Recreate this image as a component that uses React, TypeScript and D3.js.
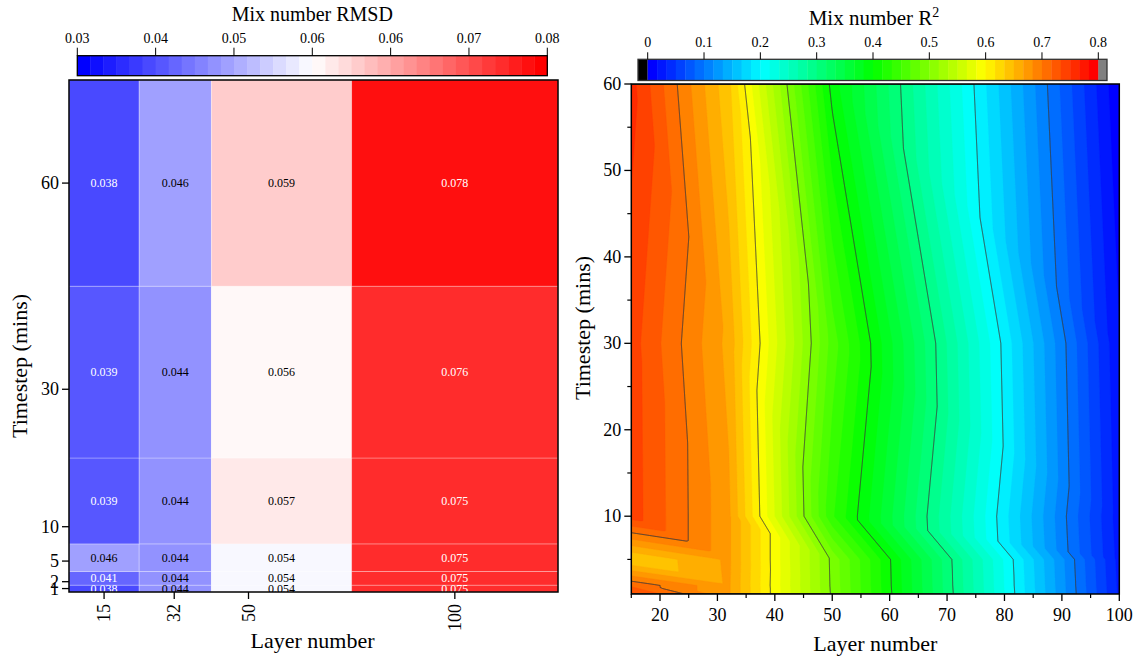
import React, { useEffect, useMemo } from "react";
import * as d3 from "d3";

const FONT = "'Liberation Serif', 'Times New Roman', Times, serif";

// ---------- Left: Mix number RMSD heatmap ----------
const rmsdLayers = [15, 32, 50, 100];
const rmsdTimesteps = [1, 2, 5, 10, 30, 60];
const rmsdT1 = [0.038, 0.044, 0.054, 0.075];
const rmsdT2 = [0.041, 0.044, 0.054, 0.075];
const rmsdT5 = [0.046, 0.044, 0.054, 0.075];
const rmsdT10 = [0.039, 0.044, 0.057, 0.075];
const rmsdT30 = [0.039, 0.044, 0.056, 0.0756];
const rmsdT60 = [0.038, 0.046, 0.0594, 0.078];
const rmsdRows = [rmsdT1, rmsdT2, rmsdT5, rmsdT10, rmsdT30, rmsdT60];
const rmsdRange = [0.03, 0.08];
const rmsdBandCount = 36;
const rmsdTickLabels = ["0.03", "0.04", "0.05", "0.06", "0.06", "0.07", "0.08"];

// ---------- Right: Mix number R² contour ----------
const r2Layers = [15, 32, 50, 100];
const r2Timesteps = [1, 2, 5, 10, 30, 60];
const r2T1 = [0.737, 0.669, 0.497, 0.03];
const r2T2 = [0.713, 0.669, 0.496, 0.029];
const r2T5 = [0.632, 0.67, 0.495, 0.027];
const r2T10 = [0.742, 0.67, 0.436, 0.024];
const r2T30 = [0.741, 0.661, 0.459, 0.018];
const r2T60 = [0.756, 0.637, 0.393, 0.002];
const r2Rows = [r2T1, r2T2, r2T5, r2T10, r2T30, r2T60];
const r2Range = [0, 0.8];
const r2BandCount = 48;
const r2LineLevels = [0.1, 0.2, 0.3, 0.4, 0.5, 0.6, 0.7];
const r2BarTicks = [0, 0.1, 0.2, 0.3, 0.4, 0.5, 0.6, 0.7, 0.8];
const r2BarTickLabels = ["0", "0.1", "0.2", "0.3", "0.4", "0.5", "0.6", "0.7", "0.8"];
const r2XTicks = [20, 30, 40, 50, 60, 70, 80, 90, 100];
const r2XMinor = [15, 25, 35, 45, 55, 65, 75, 85, 95];
const r2YTicks = [10, 20, 30, 40, 50, 60];
const r2YMinor = [5, 15, 25, 35, 45, 55];

const divergent = d3
  .scaleLinear<string>()
  .domain([0, 0.5, 1])
  .range(["#0000ff", "#ffffff", "#ff0000"])
  .interpolate(d3.interpolateRgb);
const rainbow = d3
  .scaleLinear<string>()
  .domain([0, 0.25, 0.5, 0.75, 1])
  .range(["#0000ff", "#00ffff", "#00ff00", "#ffff00", "#ff0000"])
  .interpolate(d3.interpolateRgb);

function rmsdBand(v: number) {
  const k = Math.max(
    0,
    Math.min(rmsdBandCount - 1, Math.floor(((v - rmsdRange[0]) / (rmsdRange[1] - rmsdRange[0])) * rmsdBandCount))
  );
  return divergent(k / (rmsdBandCount - 1));
}

function edgesOf(arr: number[]) {
  const e = [arr[0] - (arr[1] - arr[0]) / 2];
  for (let i = 0; i < arr.length - 1; i++) e.push((arr[i] + arr[i + 1]) / 2);
  const n = arr.length;
  e.push(arr[n - 1] + (arr[n - 1] - arr[n - 2]) / 2);
  return e;
}

function LeftChart() {
  const L = 69, R = 558, T = 80, B = 592;
  const xe = edgesOf(rmsdLayers);
  const ye = edgesOf(rmsdTimesteps);
  const x = d3.scaleLinear().domain([xe[0], xe[xe.length - 1]]).range([L, R]);
  const y = d3.scaleLinear().domain([ye[0], ye[ye.length - 1]]).range([B, T]);
  const cb = d3.scaleLinear().domain(rmsdRange).range([77.3, 547.3]);
  const cbTop = 55.7, cbBot = 75.7;
  const bandW = (rmsdRange[1] - rmsdRange[0]) / rmsdBandCount;
  const tickVals = rmsdTickLabels.map((_, i) => rmsdRange[0] + (i * (rmsdRange[1] - rmsdRange[0])) / (rmsdTickLabels.length - 1));

  return (
    <g>
      <defs>
        <clipPath id="leftClip">
          <rect x={L} y={T} width={R - L} height={B - T} />
        </clipPath>
      </defs>
      <text x={(77.3 + 547.3) / 2} y={21} textAnchor="middle" fontSize={20}>
        Mix number RMSD
      </text>
      {d3.range(rmsdBandCount).map((k) => (
        <rect
          key={k}
          x={cb(rmsdRange[0] + k * bandW)}
          y={cbTop}
          width={cb(rmsdRange[0] + (k + 1) * bandW) - cb(rmsdRange[0] + k * bandW) + 0.4}
          height={cbBot - cbTop}
          fill={divergent(k / (rmsdBandCount - 1))}
        />
      ))}
      <rect x={cb(rmsdRange[0])} y={cbTop} width={cb(rmsdRange[1]) - cb(rmsdRange[0])} height={cbBot - cbTop} fill="none" stroke="#000" strokeWidth={1.3} />
      {tickVals.map((v, i) => (
        <g key={i}>
          <line x1={cb(v)} x2={cb(v)} y1={cbTop} y2={cbTop - 8} stroke="#000" strokeWidth={1} />
          <text x={cb(v)} y={43} textAnchor="middle" fontSize={14}>
            {rmsdTickLabels[i]}
          </text>
        </g>
      ))}
      <g clipPath="url(#leftClip)">
        {rmsdRows.map((row, j) =>
          row.map((v, i) => (
            <rect
              key={`c${i}-${j}`}
              x={x(xe[i])}
              y={y(ye[j + 1])}
              width={x(xe[i + 1]) - x(xe[i])}
              height={y(ye[j]) - y(ye[j + 1])}
              fill={rmsdBand(v)}
              stroke="rgba(255,255,255,0.35)"
              strokeWidth={0.8}
            />
          ))
        )}
        {rmsdRows.map((row, j) =>
          row.map((v, i) => {
            const c = d3.rgb(rmsdBand(v));
            const lum = 0.299 * c.r + 0.587 * c.g + 0.114 * c.b;
            return (
              <text
                key={`t${i}-${j}`}
                x={(x(xe[i]) + x(xe[i + 1])) / 2}
                y={(y(ye[j]) + y(ye[j + 1])) / 2}
                textAnchor="middle"
                dominantBaseline="central"
                fontSize={12}
                fill={lum < 135 ? "#fff" : "#000"}
              >
                {v.toFixed(3)}
              </text>
            );
          })
        )}
      </g>
      <rect x={L} y={T} width={R - L} height={B - T} fill="none" stroke="#000" strokeWidth={1.5} />
      {rmsdTimesteps.map((t) => (
        <g key={`y${t}`}>
          <line x1={L} x2={L - 7} y1={y(t)} y2={y(t)} stroke="#000" strokeWidth={1.3} />
          <text x={L - 10} y={y(t)} textAnchor="end" dominantBaseline="central" fontSize={18}>
            {t}
          </text>
        </g>
      ))}
      {rmsdLayers.map((l) => (
        <g key={`x${l}`}>
          <line x1={x(l)} x2={x(l)} y1={B} y2={B + 7} stroke="#000" strokeWidth={1.3} />
          <text
            transform={`translate(${x(l)},${B + 12}) rotate(-90)`}
            textAnchor="end"
            dominantBaseline="central"
            fontSize={18}
          >
            {l}
          </text>
        </g>
      ))}
      <text x={(L + R) / 2 - 1} y={648} textAnchor="middle" fontSize={22}>
        Layer number
      </text>
      <text transform={`translate(27,366) rotate(-90)`} textAnchor="middle" fontSize={22}>
        Timestep (mins)
      </text>
    </g>
  );
}

function interpR2(xv: number, tv: number) {
  let i = d3.bisectRight(r2Layers, xv) - 1;
  i = Math.max(0, Math.min(r2Layers.length - 2, i));
  let j = d3.bisectRight(r2Timesteps, tv) - 1;
  j = Math.max(0, Math.min(r2Timesteps.length - 2, j));
  const x0 = r2Layers[i], x1 = r2Layers[i + 1];
  const t0 = r2Timesteps[j], t1 = r2Timesteps[j + 1];
  const u = (xv - x0) / (x1 - x0);
  const v = (tv - t0) / (t1 - t0);
  const a = r2Rows[j + 1][i];
  const b = r2Rows[j + 1][i + 1];
  const c = r2Rows[j][i + 1];
  const d = r2Rows[j][i];
  if (u + v >= 1) return b + (u - 1) * (b - a) + (v - 1) * (b - c);
  return d + u * (c - d) + v * (a - d);
}

function RightChart() {
  const L = 631.3, R = 1119.3, T = 84, B = 594;
  const x = d3.scaleLinear().domain([r2Layers[0], r2Layers[r2Layers.length - 1]]).range([L, R]);
  const y = d3.scaleLinear().domain([r2Timesteps[0], r2Timesteps[r2Timesteps.length - 1]]).range([B, T]);
  const cb = d3.scaleLinear().domain(r2Range).range([647.7, 1098.3]);
  const cbTop = 59.3, cbBot = 80.5;
  const bandW = (r2Range[1] - r2Range[0]) / r2BandCount;

  const { fills, lines } = useMemo(() => {
    const nx = Math.round(R - L);
    const ny = Math.round(B - T);
    const values = new Float64Array(nx * ny);
    for (let j = 0; j < ny; j++) {
      const tv = y.invert(T + ((j + 0.5) * (B - T)) / ny);
      for (let i = 0; i < nx; i++) {
        const xv = x.invert(L + ((i + 0.5) * (R - L)) / nx);
        values[i + j * nx] = interpR2(xv, tv);
      }
    }
    const sx = (R - L) / nx, sy = (B - T) / ny;
    const proj = d3.geoTransform({
      point(px: number, py: number) {
        // @ts-ignore
        this.stream.point(L + px * sx, T + py * sy);
      },
    });
    const path = d3.geoPath(proj);
    const th = d3.range(r2BandCount).map((k) => r2Range[0] + k * bandW);
    const fc = d3.contours().size([nx, ny]).thresholds(th)(values as any);
    const lc = d3.contours().size([nx, ny]).thresholds(r2LineLevels)(values as any);
    return {
      fills: fc.map((c, k) => ({ d: path(c) || "", color: rainbow(k / (r2BandCount - 1)) })),
      lines: lc.map((c) => path(c) || ""),
    };
  }, []);

  return (
    <g>
      <defs>
        <clipPath id="rightClip">
          <rect x={L} y={T} width={R - L} height={B - T} />
        </clipPath>
      </defs>
      <text x={874} y={25} textAnchor="middle" fontSize={21}>
        Mix number R
        <tspan fontSize={14} dy={-8}>
          2
        </tspan>
      </text>
      <rect x={638} y={cbTop} width={cb(r2Range[0]) - 638} height={cbBot - cbTop} fill="#000" />
      {d3.range(r2BandCount).map((k) => (
        <rect
          key={k}
          x={cb(r2Range[0] + k * bandW)}
          y={cbTop}
          width={cb(r2Range[0] + (k + 1) * bandW) - cb(r2Range[0] + k * bandW) + 0.4}
          height={cbBot - cbTop}
          fill={rainbow(k / (r2BandCount - 1))}
        />
      ))}
      <rect x={cb(r2Range[1])} y={cbTop} width={1107 - cb(r2Range[1])} height={cbBot - cbTop} fill="#808080" />
      <rect x={638} y={cbTop} width={1107 - 638} height={cbBot - cbTop} fill="none" stroke="#333" strokeWidth={1.3} />
      {r2BarTicks.map((v, i) => (
        <g key={i}>
          <line x1={cb(v)} x2={cb(v)} y1={cbTop} y2={cbTop - 7} stroke="#000" strokeWidth={1} />
          <text x={cb(v)} y={47} textAnchor="middle" fontSize={14}>
            {r2BarTickLabels[i]}
          </text>
        </g>
      ))}
      <g clipPath="url(#rightClip)">
        <rect x={L} y={T} width={R - L} height={B - T} fill={rainbow(0)} />
        {fills.map((f, k) => (
          <path key={k} d={f.d} fill={f.color} stroke={f.color} strokeWidth={0.3} />
        ))}
        {lines.map((d, k) => (
          <path key={`l${k}`} d={d} fill="none" stroke="#3a3a3a" strokeWidth={0.9} />
        ))}
      </g>
      <rect x={L} y={T} width={R - L} height={B - T} fill="none" stroke="#000" strokeWidth={1.5} />
      {r2YTicks.map((t) => (
        <g key={`y${t}`}>
          <line x1={L} x2={L - 7} y1={y(t)} y2={y(t)} stroke="#000" strokeWidth={1.3} />
          <text x={L - 10} y={y(t)} textAnchor="end" dominantBaseline="central" fontSize={18}>
            {t}
          </text>
        </g>
      ))}
      {r2YMinor.map((t) => (
        <line key={`ym${t}`} x1={L} x2={L - 4} y1={y(t)} y2={y(t)} stroke="#000" strokeWidth={1.2} />
      ))}
      {r2XTicks.map((l) => (
        <g key={`x${l}`}>
          <line x1={x(l)} x2={x(l)} y1={B} y2={B + 7} stroke="#000" strokeWidth={1.3} />
          <text x={x(l)} y={621} textAnchor="middle" fontSize={18}>
            {l}
          </text>
        </g>
      ))}
      {r2XMinor.map((l) => (
        <line key={`xm${l}`} x1={x(l)} x2={x(l)} y1={B} y2={B + 4} stroke="#000" strokeWidth={1.2} />
      ))}
      <text x={(L + R) / 2} y={651} textAnchor="middle" fontSize={22}>
        Layer number
      </text>
      <text transform={`translate(590,328) rotate(-90)`} textAnchor="middle" fontSize={22}>
        Timestep (mins)
      </text>
    </g>
  );
}

export default function App() {
  useEffect(() => {
    document.body.style.margin = "0";
  }, []);
  return (
    <svg
      width={1141}
      height={659}
      style={{ display: "block", position: "absolute", left: 0, top: 0, background: "#fff" }}
      fontFamily={FONT}
    >
      <rect width={1141} height={659} fill="#fff" />
      <LeftChart />
      <RightChart />
    </svg>
  );
}
